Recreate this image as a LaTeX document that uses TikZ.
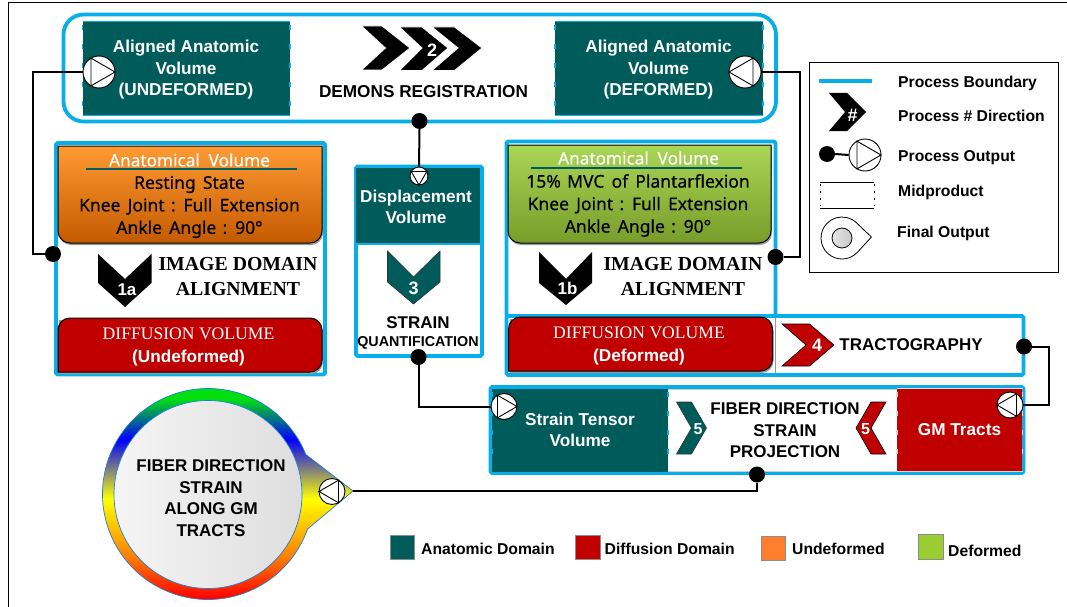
\documentclass[tikz,border=0pt]{standalone}
\usepackage{fontspec}
\setmainfont{Liberation Sans}
\newfontfamily\serf{Liberation Serif}
\newfontfamily\notom[FakeBold=0.35]{Noto Sans}
\usetikzlibrary{shadings}
\definecolor{teal1}{HTML}{005B5B}
\definecolor{pblue}{HTML}{08AEEA}
\definecolor{dred}{HTML}{C00000}
\definecolor{ringline}{HTML}{1F7FD0}
\definecolor{ortop}{HTML}{FF9A33}
\definecolor{orbot}{HTML}{C45A00}
\definecolor{grtop}{HTML}{AAD655}
\definecolor{grbot}{HTML}{789C2A}
\definecolor{ringgreen}{HTML}{00E010}
\pgfdeclareverticalshading{rainbowring}{100bp}{
  color(0bp)=(red); color(28bp)=(red); color(37bp)=(orange); color(49bp)=(yellow);
  color(61.5bp)=(blue); color(70bp)=(ringgreen); color(100bp)=(ringgreen)}
\tikzset{
  x=1pt,y=-1pt,
  conn/.style={draw=black,line width=2pt},
  dot/.style={circle,fill=black,draw=none,minimum size=16pt,inner sep=0pt},
  valvec/.style={circle,fill=white,draw=black,line width=.9pt,inner sep=0pt},
  panel/.style={draw=pblue,line width=3.8pt,fill=none,rounded corners=1.5pt},
  tealbox/.style={fill=teal1,text=white,align=center,inner sep=0pt,font=\fontsize{17.2}{21.5}\selectfont\bfseries},
  wtxt/.style={text=white,align=center,inner sep=0pt,font=\fontsize{17.2}{21.5}\selectfont\bfseries},
  redtxt/.style={text=white,align=center,inner sep=0pt},
  blk/.style={text=black,align=center,inner sep=0pt,font=\fontsize{17}{21.5}\selectfont\bfseries},
  wnum/.style={text=white,inner sep=0pt,font=\fontsize{18}{20}\selectfont\bfseries},
  ser/.style={text=black,align=center,inner sep=0pt,font=\fontsize{19.8}{25}\serf\bfseries},
  noto/.style={text=black,align=center,inner sep=0pt,font=\fontsize{17.5}{22.5}\notom},
  title/.style={text=white,inner sep=0pt,font=\fontsize{17.2}{20}\notom},
  lgd/.style={text=black,anchor=west,inner sep=0pt,font=\fontsize{15.7}{18}\selectfont\bfseries},
  sw/.style={draw=black!45,line width=.8pt,inner sep=0pt,minimum size=24.5pt},
  bdash/.style={pblue,line width=1.6pt,dash pattern=on 5pt off 14pt},
}
\newcommand{\valve}[5]{% name x y diameter angle
  \node[valvec,minimum size=#4pt] (#1) at (#2,#3) {};
  \begin{scope}[shift={(#1.center)},rotate=#5]
    \draw[black,line width=.9pt] (0:#4pt/2) -- (120:#4pt/2) -- (240:#4pt/2) -- cycle;
  \end{scope}}
\newcommand{\lowerround}[5]{%
  \path[fill=black!40] (#1+1,#2+2) -- (#3+1,#2+2) [rounded corners=12pt] -- (#3+1,#4+2) -- (#1+1,#4+2) [sharp corners] -- cycle;
  \path[draw=black,line width=1pt,#5] (#1,#2) -- (#3,#2) [rounded corners=12pt] -- (#3,#4) -- (#1,#4) [sharp corners] -- cycle;}
\newcommand{\upperround}[5]{%
  \path[fill=black!40] (#1+1,#4+2) -- (#1+1,#2+2) [rounded corners=12pt] -- (#3+1,#2+2) -- (#3+1,#4+2) [sharp corners] -- cycle;
  \path[draw=black,line width=1pt,#5] (#1,#4) [rounded corners=12pt] -- (#1,#2) -- (#3,#2) -- (#3,#4) [sharp corners] -- cycle;}
\begin{document}
\begin{tikzpicture}
\useasboundingbox (0,0) rectangle (1067,607);
\fill[white] (0,0) rectangle (1067,607);
% outer frame
\draw[black,line width=.8pt] (1067,2) -- (8,2) -- (8,607);

% panels
\draw[panel,rounded corners=20pt] (63.5,14.5) rectangle (776,121.5);
\draw[panel] (56,143) rectangle (325,374.5);
\draw[panel] (356,166.5) rectangle (482,356);
\draw[panel] (506.5,141.5) rectangle (775.5,316);
\draw[panel] (506.5,316) rectangle (1023.5,375);
\draw[panel] (490.5,387) rectangle (1023.5,473);

% teal boxes
\node[tealbox,minimum width=207.5pt,minimum height=94pt] (tealL) at (186.5,68.5) {};
\node[wtxt] (txtTL) at (186,70) {Aligned Anatomic\\Volume\\(UNDEFORMED)};
\node[tealbox,minimum width=208pt,minimum height=94pt] (tealR) at (659,68.5) {};
\node[wtxt] (txtTR) at (658.5,70) {Aligned Anatomic\\Volume\\(DEFORMED)};
\foreach \xa in {82.5,290,555,763}{\draw[bdash] (\xa,25) -- (\xa,112);}
\foreach \xa/\xb in {82.5/290,555/763}{\draw[pblue,line width=1.8pt] (\xa,21.5) -- (\xb,21.5) (\xa,115.5) -- (\xb,115.5);}

\node[tealbox,minimum width=124pt,minimum height=75pt] (tealD) at (418,205.5) {};
\node[wtxt] (txtD) at (416,207) {Displacement\\Volume};
\draw[pblue,line width=1.4pt] (356,244) -- (481,244);
\foreach \xa in {355.5,480.5}{\draw[bdash] (\xa,172) -- (\xa,240);}

\node[tealbox,minimum width=176pt,minimum height=83pt] (tealS) at (580,430) {Strain Tensor\\Volume};
\foreach \xa in {492.5,668}{\draw[bdash] (\xa,392) -- (\xa,468);}
\node[tealbox,fill=dred,minimum width=125.5pt,minimum height=83pt] (redG) at (959.5,430) {GM Tracts};
\draw[draw=black!15,line width=1.4pt] (897,388.5) -- (1022.5,388.5) (897,471.5) -- (1022.5,471.5);
\foreach \xa in {897,1022.5}{\draw[black!15,line width=1.6pt,dash pattern=on 5pt off 14pt] (\xa,392) -- (\xa,468);}
\draw[black!20,line width=.9pt] (668,389) -- (897,389) (668,471) -- (897,471);

% anatomical boxes
\lowerround{58}{146}{322}{243}{top color=ortop,bottom color=orbot}
\node[title] (ttlA) at (189.5,160) {Anatomical\hspace{.25em} Volume};
\draw[teal1,line width=1.8pt] (86,169) -- (297,169);
\node[noto] (txtA) at (189.5,207) {Resting\hspace{.15em} State\\Knee\hspace{.15em} Joint\hspace{.1em} :\hspace{.1em} Full\hspace{.15em} Extension\\Ankle\hspace{.15em} Angle\hspace{.1em} :\hspace{.1em} 90°};
\lowerround{508}{145}{771}{243}{top color=grtop,bottom color=grbot}
\node[title] (ttlB) at (638.5,158) {Anatomical\hspace{.25em} Volume};
\draw[teal1,line width=1.8pt] (531,168) -- (742,168);
\node[noto] (txtB) at (638,205.5) {15\%\hspace{.1em} MVC\hspace{.15em} of\hspace{.15em} Plantarflexion\\Knee\hspace{.15em} Joint\hspace{.1em} :\hspace{.1em} Full\hspace{.15em} Extension\\Ankle\hspace{.15em} Angle\hspace{.1em} :\hspace{.1em} 90°};

% diffusion boxes
\upperround{58}{318}{322}{372}{fill=dred}
\node[redtxt,font=\fontsize{17.6}{20}\serf] (difA) at (188.5,334) {DIFFUSION VOLUME};
\node[redtxt,font=\fontsize{17.2}{20}\selectfont\bfseries] (undA) at (188.5,358) {(Undeformed)};
\upperround{508.5}{317}{772.5}{371}{fill=dred}
\node[redtxt,font=\fontsize{17.6}{20}\serf] (difB) at (639,333) {DIFFUSION VOLUME};
\node[redtxt,font=\fontsize{17.2}{20}\selectfont\bfseries] (undB) at (639,357) {(Deformed)};
\draw[black!40,line width=.8pt] (775.8,318) -- (775.8,373);

% chevrons
\fill[black,draw=white,line width=.8pt] (361.5,26) -- (382,26) -- (410,48) -- (382,70) -- (361.5,70) -- (385.5,48) -- cycle;
\fill[black,draw=white,line width=.8pt] (399.5,27) -- (422,27) -- (448,48) -- (422,70.5) -- (399.5,70.5) -- (422,48) -- cycle;
\fill[black,draw=white,line width=.8pt] (432,27) -- (454.5,27) -- (482,48) -- (454.5,70.5) -- (432,70.5) -- (458,48) -- cycle;
\node[wnum] (n2) at (432,50) {2};
\fill[black] (98,254) -- (125,279) -- (151.5,254) -- (151.5,283) -- (125,307) -- (98,283) -- cycle;
\node[wnum,font=\fontsize{17}{20}\selectfont\bfseries] (n1a) at (127,290) {1a};
\fill[black] (539,252) -- (566,279) -- (592,252) -- (592,283) -- (566,305) -- (539,283) -- cycle;
\node[wnum,font=\fontsize{17}{20}\selectfont\bfseries] (n1b) at (567.5,288) {1b};
\path[fill=teal1,draw=black!80,line width=.6pt] (387.5,251) -- (413.5,277) -- (440,251) -- (440,282) -- (413.5,304) -- (387.5,282) -- cycle;
\node[wnum] (n3) at (413.5,288) {3};
\path[fill=dred,draw=black,line width=.6pt] (782,324) -- (809.5,324) -- (834,345) -- (809.5,366) -- (782,366) -- (806,345) -- cycle;
\node[wnum] (n4) at (817,345) {4};
\path[fill=teal1,draw=black!80,line width=.6pt] (676.5,402) -- (691.5,402) -- (706.5,428) -- (691.5,454) -- (676.5,454) -- (691.5,428) -- cycle;
\node[wnum,font=\fontsize{16}{16}\selectfont\bfseries] (n5a) at (698,429) {5};
\path[fill=dred,draw=black,line width=.6pt] (886,402) -- (871,402) -- (856,428) -- (871,454) -- (886,454) -- (871,428) -- cycle;
\node[wnum,font=\fontsize{16}{16}\selectfont\bfseries] (n5b) at (865.5,429) {5};

% black texts
\node[blk,font=\fontsize{17.2}{20}\selectfont\bfseries] (demons) at (423.5,91.5) {DEMONS REGISTRATION};
\node[ser] (imgA) at (238,277) {IMAGE DOMAIN\\ALIGNMENT};
\node[ser] (imgB) at (683,277) {IMAGE DOMAIN\\ALIGNMENT};
\node[blk] (strain) at (418,322.5) {STRAIN};
\node[blk,font=\fontsize{14.3}{16}\selectfont\bfseries] (quant) at (418,342.5) {QUANTIFICATION};
\node[blk] (tract) at (911,344.5) {TRACTOGRAPHY};
\node[blk] (fiber) at (785,430.5) {FIBER DIRECTION\\STRAIN\\PROJECTION};

% final output
\coordinate (C) at (208,494);
\coordinate (tip) at (353,491);
\path[shading=rainbowring,draw=ringline,line width=.7pt] ([shift={(22:105.5pt)}]C) -- (tip) -- ([shift={(-19.4:105.5pt)}]C) arc (-19.4:-338:105.5pt) -- cycle;
\node[circle,draw=ringline,line width=.7pt,left color=white!96!black,right color=black!13,minimum size=188pt,inner sep=0pt] (inner) at (208,494.5) {};
\node[blk] (fin) at (211,498) {FIBER DIRECTION\\STRAIN\\ALONG GM\\TRACTS};

% valves and dots
\valve{vL}{99}{72}{32}{0}
\valve{vR}{745}{72}{32}{180}
\valve{vD}{419}{176}{18}{-90}
\valve{vS}{504}{406.5}{26}{0}
\valve{vG}{1010}{405}{26}{180}
\valve{vF}{332}{491.5}{26}{180}
\node[dot] (dL) at (53,254) {};
\node[dot] (dR) at (775.5,257) {};
\node[dot] (dT) at (419.5,121) {};
\node[dot] (dQ) at (418.5,357) {};
\node[dot] (dS) at (757,474.5) {};
\node[dot] (dG) at (1024,346.5) {};

% connectors
\coordinate (bL) at (33,160);
\coordinate (bR) at (800,160);
\coordinate (bG) at (1049,375);
\draw[conn] (vL.west) -| (bL) |- (dL.west);
\draw[conn] (vR.east) -| (bR) |- (dR.east);
\draw[conn] (dT.south) -- (vD.north);
\draw[conn] (dQ.south) |- (vS.west);
\draw[conn] (dG.east) -| (bG) |- (vG.east);
\draw[conn] (dS.south) |- (tip);

% legend
\node[draw=black,line width=1.3pt,minimum width=249.5pt,minimum height=210.5pt,inner sep=0pt] (legend) at (934,167.5) {};
\coordinate (pb1) at (819,81);
\coordinate (pb2) at (872,81);
\draw[pblue,line width=3.6pt] (pb1) -- (pb2);
\node[lgd] (l1) at (898,83.5) {Process Boundary};
\fill[black] (829,93) -- (847,93) -- (866,112) -- (847,131) -- (829,131) -- (845,112) -- cycle;
\node[wnum] (lhash) at (852.5,115) {\#};
\node[lgd] (l2) at (898,116) {Process \# Direction};
\node[dot] (ld) at (827,154) {};
\valve{lv}{865}{155}{32}{0}
\draw[conn] (ld.east) -- (lv.west);
\node[lgd] (l3) at (898,157.5) {Process Output};
\draw[black,line width=.8pt] (820,182) -- (874,182) (820,208) -- (874,208);
\draw[black,line width=.8pt,dash pattern=on 2pt off 5pt] (820,184) -- (820,206) (874,184) -- (874,206);
\node[lgd] (l4) at (898,192.5) {Midproduct};
\coordinate (C2) at (842,238);
\draw[black,line width=.8pt,fill=white] ([shift={(43:21pt)}]C2) -- (871.4,237) -- ([shift={(-43:21pt)}]C2) arc (-43:-317:21pt) -- cycle;
\node[circle,draw=black,line width=.8pt,left color=white!90!black,right color=black!22,minimum size=20pt,inner sep=0pt] (li) at (842,238) {};
\node[lgd] (l5) at (897,233.5) {Final Output};

% domain legend
\node[sw,fill=teal1] (s1) at (402.5,547.5) {};
\node[lgd] (t1) at (421,549) {Anatomic Domain};
\node[sw,fill=dred] (s2) at (588,547.5) {};
\node[lgd] (t2) at (604.5,549) {Diffusion Domain};
\node[sw,fill={rgb,255:red,255;green,127;blue,47}] (s3) at (773.5,548.5) {};
\node[lgd] (t3) at (792,549) {Undeformed};
\node[sw,fill={rgb,255:red,154;green,205;blue,50}] (s4) at (931,547) {};
\node[lgd] (t4) at (948,550.5) {Deformed};
\end{tikzpicture}
\end{document}
